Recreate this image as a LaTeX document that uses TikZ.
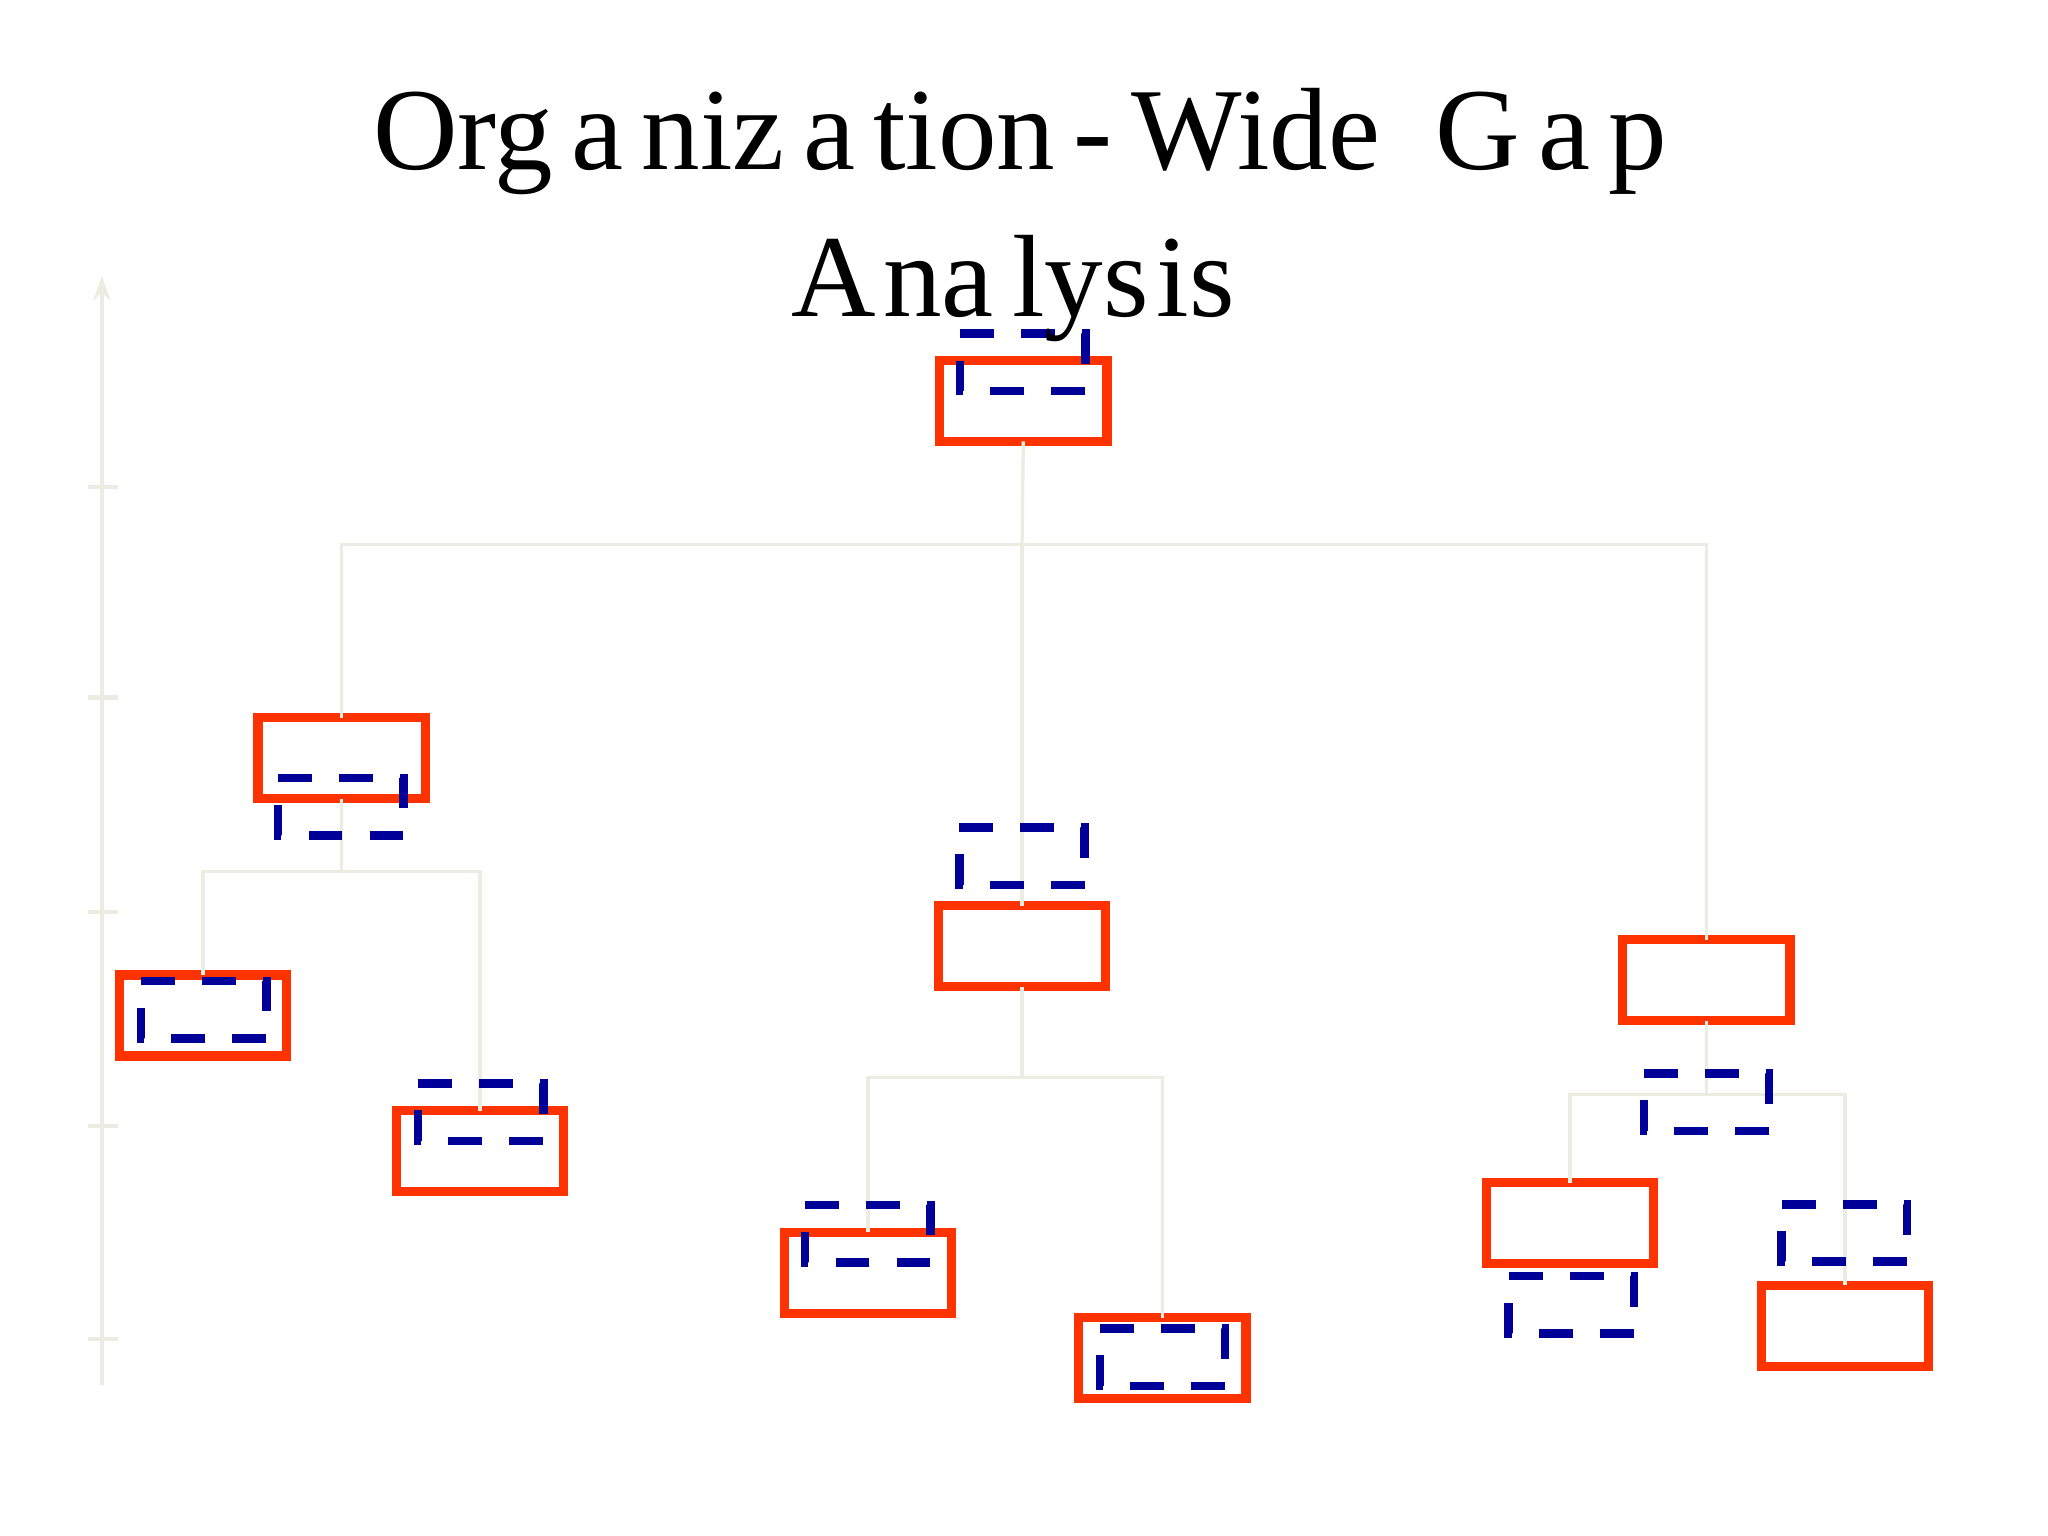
\documentclass[tikz,border=0pt]{standalone}
\usepackage{fontspec}
\setmainfont{Liberation Serif}
\usetikzlibrary{arrows.meta}
\definecolor{boxred}{RGB}{255,51,0}
\definecolor{dashblue}{RGB}{0,0,153}
\definecolor{connc}{RGB}{236,236,226}
\newcommand\tgap{\hspace{1.4mm}}
\tikzset{
  redbox/.style={draw=boxred, line width=0.7mm, minimum width=12.8mm, minimum height=6.2mm, inner sep=0pt, outer sep=0pt, fill=white},
  dashph/.style={minimum width=9.6mm, minimum height=4.4mm, inner sep=0pt, outer sep=0pt},
  dashline/.style={draw=dashblue, line width=0.65mm, dash pattern=on 2.6mm off 2.07mm, line join=miter},
  conn/.style={draw=connc, line width=0.25mm},
  titletext/.style={font=\fontsize{25.5pt}{30pt}\selectfont, inner sep=0pt, anchor=base}
}
\newcommand\dashrect[1]{\draw[dashline] (#1.north west) -- (#1.north east) -- (#1.south east) -- (#1.south west) -- cycle;}
\begin{document}
\begin{tikzpicture}[x=0.1mm,y=-0.1mm]
\useasboundingbox[fill=white] (0,0) rectangle (1568,1176);
% axis
\draw[connc, line width=0.33mm, -{Stealth[length=1.9mm,width=1.3mm]}] (78,1060) coordinate (axb) -- (78,211) coordinate (axt);
\foreach \yy in {373,534,698,862,1025} \draw[connc, line width=0.33mm] (67,\yy) -- (90,\yy);
% red boxes
\node[redbox] (r1) at (783.5,307) {};
\node[redbox] (r2) at (261.5,580.5) {};
\node[redbox] (r3) at (782.5,724.5) {};
\node[redbox] (r4) at (1306.5,750.5) {};
\node[redbox] (r5) at (155.5,777.5) {};
\node[redbox] (r6) at (367.5,881.5) {};
\node[redbox] (r7) at (664.5,974.5) {};
\node[redbox] (r8) at (890,1040) {};
\node[redbox] (r9) at (1202,936.5) {};
\node[redbox] (r10) at (1412.5,1015) {};
% bus coordinates
\coordinate (b1) at (782.5,417);
\coordinate (b2) at (261.5,667);
\coordinate (b3) at (782.5,825);
\coordinate (b4) at (1306.5,838);
% connectors
\draw[conn] (r1.south) -- (b1);
\draw[conn] (r2.north) |- (b1) -| (r4.north);
\draw[conn] (b1) -- (r3.north);
\draw[conn] (r2.south) -- (b2);
\draw[conn] (r5.north) |- (b2) -| (r6.north);
\draw[conn] (r3.south) -- (b3);
\draw[conn] (r7.north) |- (b3) -| (r8.north);
\draw[conn] (r4.south) -- (b4);
\draw[conn] (r9.north) |- (b4) -| (r10.north);
% dashed placeholders
\node[dashph] (d1) at (783,277.5) {};
\node[dashph] (d2) at (261,617.5) {};
\node[dashph] (d3) at (782.5,655.5) {};
\node[dashph] (d4) at (1306.5,844) {};
\node[dashph] (d5) at (156,773) {};
\node[dashph] (d6) at (368,851.5) {};
\node[dashph] (d7) at (664.5,944.5) {};
\node[dashph] (d8) at (890,1039) {};
\node[dashph] (d9) at (1203,999) {};
\node[dashph] (d10) at (1412,944) {};
\dashrect{d1}\dashrect{d2}\dashrect{d3}\dashrect{d4}\dashrect{d5}
\dashrect{d6}\dashrect{d7}\dashrect{d8}\dashrect{d9}\dashrect{d10}
% title
\node[titletext] (t1) at (781,130) {Org\tgap a\tgap niz\tgap a\tgap tion\tgap -\tgap Wide\ \hspace{2mm}G\tgap a\tgap p};
\node[titletext] (t2) at (775.5,242) {A\hspace{0.6mm}na\hspace{1.4mm}lys\hspace{0.6mm}is};
\end{tikzpicture}
\end{document}
